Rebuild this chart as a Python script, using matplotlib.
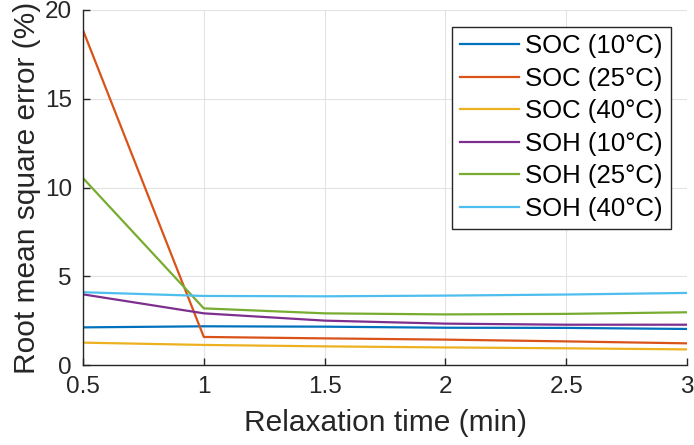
import numpy as np
import matplotlib
matplotlib.use("Agg")
import matplotlib.pyplot as plt

plt.rcParams['font.family'] = ['Liberation Sans', 'DejaVu Sans']

# Relaxation time (min)
relax_time = [0.5, 1.0, 1.5, 2.0, 2.5, 3.0]

# RMSE (%)
soc_10 = [2.12, 2.18, 2.16, 2.10, 2.09, 2.03]
soc_25 = [18.86, 1.58, 1.50, 1.43, 1.33, 1.22]
soc_40 = [1.26, 1.13, 1.05, 0.99, 0.94, 0.88]
soh_10 = [3.98, 2.91, 2.50, 2.33, 2.27, 2.27]
soh_25 = [10.53, 3.19, 2.91, 2.85, 2.88, 2.97]
soh_40 = [4.10, 3.89, 3.87, 3.91, 3.97, 4.06]

series = [soc_10, soc_25, soc_40, soh_10, soh_25, soh_40]
labels = ['SOC (10°C)', 'SOC (25°C)', 'SOC (40°C)',
          'SOH (10°C)', 'SOH (25°C)', 'SOH (40°C)']
# MATLAB default colour order
colors = ['#0072BD', '#D95319', '#EDB120', '#7E2F8E', '#77AC30', '#4DBEEE']

fig = plt.figure(figsize=(6.94, 4.45), dpi=100)
ax = fig.add_axes([83 / 694, 80 / 445, 604 / 694, 355 / 445])

for vals, lab, c in zip(series, labels, colors):
    ax.plot(relax_time, vals, color=c, linewidth=1.6, label=lab)

ax.set_xlim(0.5, 3)
ax.set_ylim(0, 20)
ax.set_xticks([0.5, 1, 1.5, 2, 2.5, 3])
ax.set_xticklabels(['0.5', '1', '1.5', '2', '2.5', '3'])
ax.set_yticks([0, 5, 10, 15, 20])

ax.grid(True, color='#e3e3e3', linewidth=0.8)
ax.set_axisbelow(True)
for side in ['top', 'right']:
    ax.spines[side].set_visible(False)
for side in ['left', 'bottom']:
    ax.spines[side].set_color('#262626')
    ax.spines[side].set_linewidth(1.0)

ax.tick_params(direction='in', length=5, width=1, colors='#262626',
               labelsize=17.5, labelcolor='#262626', pad=8)

ax.set_xlabel('Relaxation time (min)', fontsize=21.5, color='#262626', labelpad=8)
ax.set_ylabel('Root mean square error (%)', fontsize=21.5, color='#262626', labelpad=3)

leg = ax.legend(loc='upper right', bbox_to_anchor=(670.7 / 694, (445 - 26.7) / 445),
                bbox_transform=fig.transFigure,
                fontsize=18.5, frameon=True, fancybox=False, framealpha=1,
                edgecolor='#262626', handlelength=2.3, handletextpad=0.25,
                labelspacing=0.33, borderpad=0.3, borderaxespad=0)
leg.get_frame().set_linewidth(1.0)
for t in leg.get_texts():
    t.set_color('black')

fig.savefig('out.png', dpi=100)
